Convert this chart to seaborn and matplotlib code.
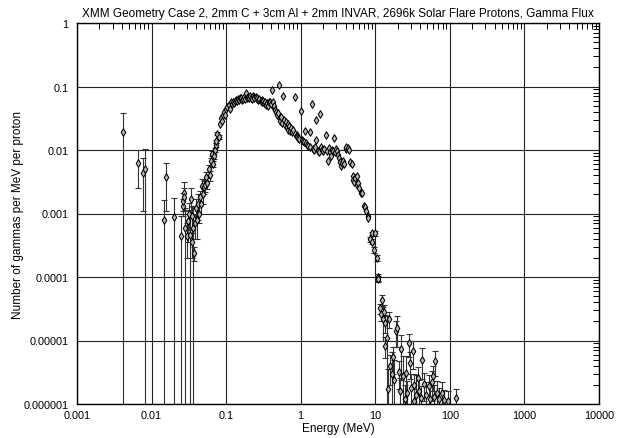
import matplotlib
matplotlib.use("Agg")
import matplotlib.pyplot as plt
import seaborn as sns
import numpy as np
import pandas as pd
from matplotlib.ticker import FixedLocator, FixedFormatter, LogLocator, NullFormatter

# ---------------- data ----------------
title = "XMM Geometry Case 2, 2mm C + 3cm Al + 2mm INVAR, 2696k Solar Flare Protons, Gamma Flux"
x_label = "Energy (MeV)"
y_label = "Number of gammas per MeV per proton"

x_tick_values = [0.001, 0.01, 0.1, 1, 10, 100, 1000, 10000]
x_tick_labels = ["0.001", "0.01", "0.1", "1", "10", "100", "1000", "10000"]
y_tick_values = [1e-6, 1e-5, 1e-4, 1e-3, 1e-2, 1e-1, 1]
y_tick_labels = ["0.000001", "0.00001", "0.0001", "0.001", "0.01", "0.1", "1"]

# low-energy points (with error bars)
low_energy = [0.0042, 0.0066, 0.0076, 0.0082, 0.0146, 0.0157, 0.0201, 0.0250, 0.0262, 0.0268,
              0.0272, 0.0276, 0.0285, 0.0300, 0.0310, 0.0322, 0.0330, 0.0338, 0.0345, 0.0352,
              0.0360, 0.0368, 0.0380, 0.0395, 0.0405, 0.0420, 0.0430, 0.0445, 0.0460, 0.0475,
              0.0490, 0.0505, 0.0525, 0.0545, 0.0560, 0.0580, 0.0600, 0.0620, 0.0640, 0.0660,
              0.0680, 0.0700, 0.0720, 0.0740, 0.0765, 0.0790]
low_flux = [0.019, 0.0062, 0.0043, 0.0050, 0.00080, 0.0037, 0.00088, 0.00045, 0.0013, 0.0016,
            0.0021, 0.0018, 0.00060, 0.00045, 0.00075, 0.00100, 0.00046, 0.0017, 0.00090, 0.00035,
            0.00060, 0.00024, 0.00070, 0.00120, 0.00080, 0.00140, 0.00100, 0.00180, 0.00140, 0.00270,
            0.00200, 0.00260, 0.00280, 0.00370, 0.00300, 0.00500, 0.00400, 0.00660, 0.00880, 0.00600,
            0.00800, 0.01000, 0.0120, 0.0137, 0.0180, 0.0160]
low_sigma = [0.019, 0.0037, 0.0032, 0.0052, 0.00085, 0.0026, 0.0009, 0.00047, 0.0004, 0.0005,
             0.0010, 0.0007, 0.00063, 0.00025, 0.0004, 0.00045, 0.0005, 0.0008, 0.0004, 0.00015,
             0.00065, 0.00006, 0.0003, 0.0005, 0.0004, 0.0006, 0.0003, 0.0005, 0.0004, 0.0008,
             0.0006, 0.0006, 0.0006, 0.0008, 0.0006, 0.0009, 0.0007, 0.0009, 0.0008, 0.0006,
             0.0007, 0.0008, 0.0008, 0.0009, 0.0010, 0.0010]

# main body of the spectrum (error bars smaller than the markers)
mid_energy = [0.082, 0.085, 0.088, 0.091, 0.094, 0.098, 0.101, 0.104, 0.108, 0.111,
              0.115, 0.119, 0.123, 0.127, 0.131, 0.135, 0.139, 0.143, 0.148, 0.152,
              0.157, 0.162, 0.167, 0.172, 0.177, 0.183, 0.188, 0.194, 0.200, 0.206,
              0.213, 0.220, 0.226, 0.233, 0.240, 0.248, 0.256, 0.263, 0.271, 0.280,
              0.289, 0.298, 0.307, 0.316, 0.326, 0.336, 0.347, 0.358, 0.369, 0.380,
              0.392, 0.405, 0.418, 0.430, 0.432, 0.444, 0.458, 0.472, 0.486, 0.50,
              0.51, 0.52, 0.535, 0.55, 0.565, 0.585, 0.59, 0.61, 0.63, 0.645,
              0.665, 0.685, 0.705, 0.725, 0.75, 0.775, 0.80, 0.828, 0.85, 0.88,
              0.90, 0.93, 0.96, 1.00, 1.03, 1.07, 1.10, 1.14, 1.18, 1.22,
              1.27, 1.33, 1.35, 1.40, 1.45, 1.50, 1.55, 1.58, 1.62, 1.68,
              1.75, 1.81, 1.85, 1.92, 2.00, 2.08, 2.15, 2.22, 2.31, 2.36,
              2.45, 2.51, 2.60, 2.70, 2.78, 2.86, 2.93, 3.05, 3.15, 3.25,
              3.35, 3.45, 3.55, 3.70, 3.85, 4.00, 4.11, 4.25, 4.42, 4.60,
              4.80, 4.95, 5.10, 5.25, 5.40, 5.60, 5.75, 5.90, 6.10, 6.40,
              6.70, 6.95, 7.20, 7.50, 7.87, 8.10]
mid_flux = [0.026, 0.032, 0.029, 0.035, 0.040, 0.036, 0.045, 0.048, 0.051, 0.044,
            0.056, 0.053, 0.058, 0.055, 0.060, 0.062, 0.059, 0.063, 0.061, 0.065,
            0.066, 0.062, 0.064, 0.068, 0.063, 0.080, 0.066, 0.069, 0.065, 0.070,
            0.067, 0.064, 0.072, 0.068, 0.065, 0.069, 0.064, 0.067, 0.061, 0.064,
            0.059, 0.062, 0.057, 0.060, 0.054, 0.058, 0.052, 0.055, 0.050, 0.056,
            0.058, 0.053, 0.089, 0.057, 0.046, 0.050, 0.043, 0.040, 0.036, 0.038,
            0.104, 0.032, 0.029, 0.033, 0.027, 0.070, 0.030, 0.025, 0.028, 0.023,
            0.026, 0.021, 0.024, 0.020, 0.022, 0.019, 0.021, 0.068, 0.018, 0.0175,
            0.0162, 0.0155, 0.0150, 0.041, 0.0145, 0.0140, 0.0135, 0.020, 0.0128, 0.0120,
            0.0115, 0.0110, 0.019, 0.053, 0.0105, 0.0100, 0.0112, 0.0145, 0.030, 0.0098,
            0.0093, 0.037, 0.0110, 0.0100, 0.0097, 0.0105, 0.017, 0.0098, 0.0068, 0.0107,
            0.0093, 0.0080, 0.0100, 0.0096, 0.0155, 0.0092, 0.0105, 0.0097, 0.0082, 0.0074,
            0.0064, 0.0057, 0.0062, 0.0068, 0.0060, 0.0105, 0.0110, 0.0107, 0.0101, 0.0065,
            0.0060, 0.0039, 0.0034, 0.0031, 0.0036, 0.0039, 0.0028, 0.0030, 0.0025, 0.0021,
            0.0021, 0.00132, 0.00125, 0.00110, 0.00092, 0.00085]

# high-energy tail (with error bars)
tail_energy = [8.6, 8.9, 9.1, 9.55, 10.0, 10.4, 10.8, 11.0, 11.7, 12.0,
               12.4, 12.7, 13.0, 13.3, 13.7, 14.2, 14.9, 15.1, 15.8, 16.5,
               17.3, 18.0, 18.7, 19.6, 20.5, 21.7, 22.2, 23.5, 24.8, 26.2,
               26.6, 28.0, 28.8, 30.5, 31.7, 32.8, 33.5, 35.5, 37.3, 39.0,
               41.5, 42.5, 45.2, 48.0, 52.0, 55.0, 57.8, 59.6, 62.0, 64.0,
               67.8, 72.0, 79.0, 83.0, 93.0, 122.0]
tail_flux = [0.00039, 0.00036, 0.00049, 0.00027, 0.00049, 0.00020, 0.000100, 0.000092, 3.2e-5, 2.6e-5,
             4.4e-5, 2.2e-5, 2.8e-5, 1.9e-5, 8.3e-6, 1.1e-5, 1.7e-6, 2.2e-5, 4.0e-6, 3.0e-6,
             5.5e-6, 2.4e-6, 1.4e-5, 1.6e-5, 3.2e-6, 1.6e-6, 7.4e-6, 2.8e-6, 1.2e-6, 3.1e-6,
             1.5e-6, 9.0e-6, 4.5e-6, 1.8e-6, 6.8e-6, 1.1e-6, 2.0e-6, 1.4e-6, 2.6e-6, 1.6e-6,
             1.25e-6, 5.0e-6, 2.1e-6, 1.4e-6, 1.9e-6, 1.2e-6, 2.2e-6, 2.8e-6, 1.3e-6, 4.8e-6,
             1.5e-6, 1.2e-6, 1.5e-6, 1.17e-6, 1.1e-6, 1.24e-6]
tail_sigma = [0.00003, 0.00003, 0.00003, 0.00003, 0.00004, 0.00002, 0.000012, 0.00001, 0.6e-5, 0.6e-5,
              0.9e-5, 1.2e-5, 0.8e-5, 0.6e-5, 3.0e-6, 1.3e-5, 1.9e-6, 0.6e-5, 2.0e-6, 3.5e-6,
              2.5e-6, 2.6e-6, 0.6e-5, 0.8e-5, 1.5e-6, 1.0e-6, 5.0e-6, 3.0e-6, 0.8e-6, 2.5e-6,
              0.8e-6, 3.5e-6, 2.0e-6, 1.2e-6, 3.2e-6, 0.6e-6, 1.0e-6, 1.5e-6, 1.2e-6, 0.8e-6,
              0.7e-6, 2.5e-6, 1.0e-6, 0.8e-6, 1.0e-6, 0.7e-6, 1.1e-6, 1.2e-6, 0.7e-6, 2.0e-6,
              0.8e-6, 0.6e-6, 0.7e-6, 0.5e-6, 0.5e-6, 0.46e-6]

# ---------------- figure ----------------
sns.set_theme(style="white")
plt.rcParams["font.family"] = ["Liberation Sans", "DejaVu Sans"]
plt.rcParams["font.size"] = 7.8
plt.rcParams["text.color"] = "black"
plt.rcParams["axes.labelcolor"] = "black"

fig = plt.figure(figsize=(6.28, 4.39), dpi=100)
ax = fig.add_axes([77 / 628, 1 - 405 / 439, 522 / 628, 381 / 439])

err_style = dict(fmt="none", ecolor="#333333", elinewidth=0.8, capsize=2.4, capthick=0.8, zorder=2)
ax.errorbar(low_energy, low_flux, yerr=low_sigma, **err_style)
ax.errorbar(tail_energy, tail_flux, yerr=tail_sigma, **err_style)

df = pd.concat([
    pd.DataFrame({"energy": low_energy, "flux": low_flux}),
    pd.DataFrame({"energy": mid_energy, "flux": mid_flux}),
    pd.DataFrame({"energy": tail_energy, "flux": tail_flux}),
], ignore_index=True)

sns.scatterplot(data=df, x="energy", y="flux", ax=ax, marker="d", s=15,
                facecolor="#b8b8b8", edgecolor="black", linewidth=0.75, zorder=3, legend=False)

ax.set_xscale("log")
ax.set_yscale("log")
ax.set_xlim(1e-3, 1e4)
ax.set_ylim(1e-6, 1)

ax.xaxis.set_major_locator(FixedLocator(x_tick_values))
ax.xaxis.set_major_formatter(FixedFormatter(x_tick_labels))
ax.yaxis.set_major_locator(FixedLocator(y_tick_values))
ax.yaxis.set_major_formatter(FixedFormatter(y_tick_labels))
ax.xaxis.set_minor_locator(LogLocator(base=10, subs=np.arange(2, 10), numticks=20))
ax.yaxis.set_minor_locator(LogLocator(base=10, subs=np.arange(2, 10), numticks=20))
ax.xaxis.set_minor_formatter(NullFormatter())
ax.yaxis.set_minor_formatter(NullFormatter())

ax.tick_params(which="both", direction="in", top=True, right=True, colors="black",
               labelsize=7.8, labelcolor="black")
ax.tick_params(which="minor", length=4, width=0.7)
ax.tick_params(which="major", length=0, width=0.7)
ax.tick_params(axis="y", which="major", pad=6)
ax.tick_params(axis="x", which="major", pad=4)

ax.grid(True, which="major", color="#222222", linewidth=0.8)
for sp in ax.spines.values():
    sp.set_color("black")
    sp.set_linewidth(1.0)

ax.set_xlabel(x_label, fontsize=8.5, labelpad=2, color="black")
ax.set_ylabel("")
ax.set_title(title, fontsize=8.5, pad=5, color="black")
fig.text(18 / 628, 1 - 215 / 439, y_label, rotation=90, ha="center", va="center",
         fontsize=8.5, color="black")

fig.savefig("out.png", dpi=100, facecolor="white")
